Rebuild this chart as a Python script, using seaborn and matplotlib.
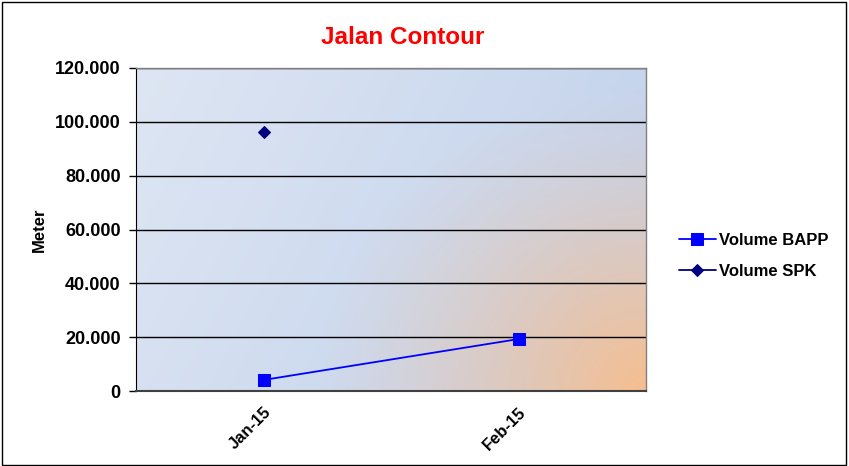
import matplotlib
matplotlib.use("Agg")
import matplotlib.pyplot as plt
import matplotlib.ticker as mticker
import numpy as np
import pandas as pd
import seaborn as sns

months = ["Jan-15", "Feb-15"]
volume_bapp = [4100, 19300]
volume_spk = [96300, np.nan]

df = pd.DataFrame({
    "month": months * 2,
    "pos": [0, 1] * 2,
    "value": volume_bapp + volume_spk,
    "series": ["Volume BAPP"] * 2 + ["Volume SPK"] * 2,
})

sns.set_style("white")
plt.rcParams["font.family"] = ["Liberation Sans", "DejaVu Sans"]
plt.rcParams["font.weight"] = "bold"
plt.rcParams["text.color"] = "#000000"
plt.rcParams["axes.labelcolor"] = "#000000"
plt.rcParams["xtick.color"] = "#000000"
plt.rcParams["ytick.color"] = "#000000"

fig = plt.figure(figsize=(8.49, 4.66), dpi=100)
ax = fig.add_axes([136 / 849, 1 - 391 / 466, 510 / 849, 323 / 466])

# plot-area gradient background (blue wash with orange glow bottom right)
h, w = 200, 320
yy, xx = np.mgrid[0:1:h * 1j, 0:1:w * 1j]
light = np.array([222, 230, 243]) / 255
mid = np.array([196, 211, 236]) / 255
orange = np.array([246, 190, 143]) / 255
t = np.clip(xx * 0.9 + (1 - yy) * 0.3, 0, 1)[..., None]
base = light * (1 - t) + mid * t
d = np.sqrt(((1 - xx) * 1.6) ** 2 + (yy * 1.1) ** 2)
g = np.clip(1 - d / 1.05, 0, 1)[..., None] ** 1.3
img = base * (1 - g) + orange * g
ax.imshow(img, extent=[0, 1, 0, 1], transform=ax.transAxes, origin="lower",
          aspect="auto", zorder=0, interpolation="bilinear")

sns.lineplot(data=df[df.series == "Volume BAPP"], x="pos", y="value", ax=ax,
             color="#0000ff", marker="s", markersize=8, markeredgecolor="#0000ff",
             linewidth=1.3, label="Volume BAPP", zorder=4)
sns.lineplot(data=df[df.series == "Volume SPK"].dropna(), x="pos", y="value", ax=ax,
             color="#000080", marker="D", markersize=6.5, markeredgecolor="#000080",
             linewidth=1.3, label="Volume SPK", zorder=4)

ax.set_xlim(-0.5, 1.5)
ax.set_ylim(0, 120000)
ax.set_xticks([0, 1])
ax.set_xticklabels(months, rotation=45, ha="right", rotation_mode="anchor",
                   fontsize=12, fontweight="bold")
ax.yaxis.set_major_locator(mticker.MultipleLocator(20000))
ax.yaxis.set_major_formatter(mticker.FuncFormatter(
    lambda v, p: f"{v:,.0f}".replace(",", ".")))
for lab in ax.get_yticklabels():
    lab.set_fontsize(13)
    lab.set_fontweight("bold")
ax.tick_params(axis="y", left=True, length=5, width=1, color="#000000", pad=6)
ax.tick_params(axis="x", bottom=False, pad=6)
ax.grid(axis="y", color="#000000", linewidth=1, zorder=1)
ax.set_axisbelow(True)
for s in ["top", "right"]:
    ax.spines[s].set_color("#808080")
    ax.spines[s].set_linewidth(1)
ax.spines["left"].set_color("#000000")
ax.spines["bottom"].set_color("#404040")
ax.spines["bottom"].set_linewidth(1.5)
ax.set_xlabel("")
ax.set_ylabel("Meter", fontsize=12, fontweight="bold", labelpad=6)

fig.text(403 / 849, 1 - 37 / 466, "Jalan Contour", color="#ff0000", fontsize=17.5,
         fontweight="bold", ha="center", va="center")

leg = ax.legend(loc="center left", bbox_to_anchor=(1.035, 0.418), frameon=False,
                prop={"size": 12, "weight": "bold"}, handlelength=2.2,
                handletextpad=0.2, labelspacing=0.95)

fig.patches.append(plt.Rectangle((0.002, 0.003), 0.994, 0.993, transform=fig.transFigure,
                                 fill=False, edgecolor="#000000", linewidth=1))

fig.savefig("out.png", dpi=100)
